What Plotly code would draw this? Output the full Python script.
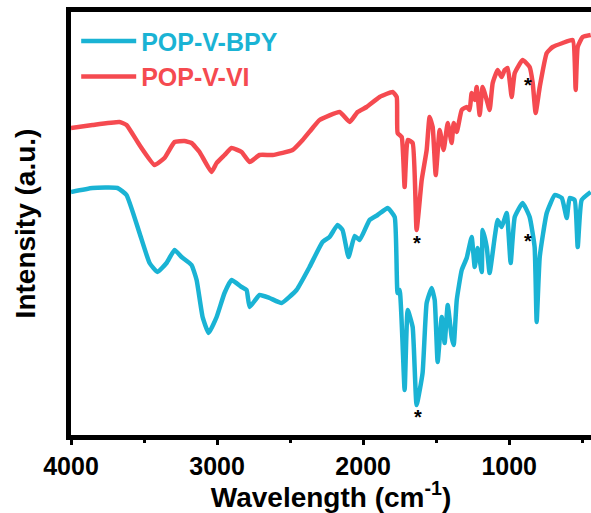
import plotly.graph_objects as go

# POP-V-VI (red, upper spectrum)
vi_wn = [4000, 3853, 3668, 3620, 3531, 3428, 3360, 3291, 3223, 3175, 3120, 3038, 3003, 2949,
         2901, 2832, 2777, 2709, 2620, 2483, 2414, 2346, 2298, 2161, 2092, 2038, 1976, 1887,
         1798, 1770, 1764, 1736, 1716, 1695, 1661, 1634, 1599, 1565, 1545, 1524, 1503, 1476,
         1449, 1421, 1394, 1380, 1359, 1325, 1291, 1271, 1257, 1236, 1223, 1202, 1182, 1154,
         1134, 1113, 1079, 1052, 1031, 1010, 983, 962, 908, 860, 839, 819, 791, 743, 702, 634,
         565, 545, 531, 497, 442]
vi_int = [307, 310, 313, 310, 290, 270, 277, 293, 294, 292, 283, 263, 272, 280,
          287, 283, 273, 280, 280, 285, 295, 307, 315, 323, 313, 323, 328, 338,
          343, 338, 302, 298, 248, 295, 292, 205, 255, 285, 318, 308, 260, 305,
          285, 312, 292, 312, 303, 325, 328, 325, 342, 335, 348, 320, 348, 335,
          325, 352, 365, 358, 365, 367, 338, 362, 375, 368, 352, 322, 348, 382, 388, 392,
          395, 345, 388, 398, 400]

# POP-V-BPY (cyan, lower spectrum)
bpy_wn = [4000, 3853, 3682, 3620, 3531, 3462, 3408, 3346, 3291, 3243, 3175, 3140, 3099, 3058,
          3003, 2949, 2901, 2832, 2798, 2777, 2709, 2640, 2558, 2456, 2367, 2278, 2230, 2175,
          2141, 2100, 2058, 2024, 1956, 1901, 1832, 1784, 1764, 1750, 1716, 1695, 1661, 1634,
          1593, 1565, 1531, 1510, 1490, 1462, 1442, 1421, 1394, 1380, 1359, 1325, 1291, 1257,
          1236, 1216, 1188, 1182, 1154, 1134, 1099, 1079, 1052, 1017, 990, 962, 908, 860, 826,
          812, 791, 743, 688, 640, 606, 586, 552, 531, 504, 442]
bpy_int = [243, 247, 247, 240, 202, 172, 163, 172, 185, 178, 170, 155, 118, 102,
           118, 142, 155, 148, 145, 128, 140, 137, 132, 145, 168, 193, 198, 210,
           205, 178, 199, 195, 215, 220, 227, 218, 142, 145, 45, 125, 108, 30,
           62, 132, 147, 135, 73, 118, 92, 130, 98, 90, 135, 165, 177, 198,
           168, 187, 163, 205, 188, 162, 198, 215, 208, 222, 172, 218, 232, 218, 188,
           113, 178, 222, 240, 237, 217, 237, 235, 188, 235, 243]

# asterisk markers
star_wn = [1634, 1627, 874, 874]
star_int = [195, 21, 353, 197]

CYAN = "#1AB3D4"
RED = "#F54A50"

fig = go.Figure()
fig.add_trace(go.Scatter(
    x=bpy_wn, y=bpy_int, mode="lines",
    line=dict(color=CYAN, width=4.5, shape="spline", smoothing=0.4),
    name=f"<b><span style='color:{CYAN}'>POP-V-BPY</span></b>"))
fig.add_trace(go.Scatter(
    x=vi_wn, y=vi_int, mode="lines",
    line=dict(color=RED, width=4.5, shape="spline", smoothing=0.4),
    name=f"<b><span style='color:{RED}'>POP-V-VI</span></b>"))

for sx, sy in zip(star_wn, star_int):
    fig.add_annotation(x=sx, y=sy, text="<b>*</b>", showarrow=False,
                       font=dict(size=20, color="black", family="Liberation Sans, Arial"),
                       yshift=-3)

fig.update_layout(
    width=591, height=513,
    margin=dict(l=71, r=0, t=12, b=78),
    paper_bgcolor="white", plot_bgcolor="white",
    font=dict(family="Liberation Sans, Arial", color="black"),
    showlegend=True,
    legend=dict(x=0.01, y=0.985, xanchor="left", yanchor="top",
                bgcolor="rgba(0,0,0,0)", font=dict(size=25),
                tracegroupgap=0, itemwidth=55),
    xaxis=dict(
        range=[4000, 440], tickvals=[4000, 3000, 2000, 1000],
        ticktext=["<b>4000</b>", "<b>3000</b>", "<b>2000</b>", "<b>1000</b>"],
        tickfont=dict(size=25, color="black"),
        ticks="outside", ticklen=5, tickwidth=3, tickcolor="black",
        minor=dict(tickvals=[3500, 2500, 1500, 500], ticks="outside", ticklen=3,
                   tickwidth=3, tickcolor="black"),
        showline=True, linewidth=5, linecolor="black", mirror=True,
        showgrid=False, zeroline=False,
        title=dict(text="<b>Wavelength (cm<sup>-1</sup>)</b>", font=dict(size=28),
                   standoff=10),
    ),
    yaxis=dict(
        range=[0, 423], showticklabels=False, ticks="",
        showline=True, linewidth=5, linecolor="black",
        showgrid=False, zeroline=False,
        title=dict(text="<b>Intensity (a.u.)</b>", font=dict(size=28), standoff=24),
    ),
)

fig.write_html("out.html")
